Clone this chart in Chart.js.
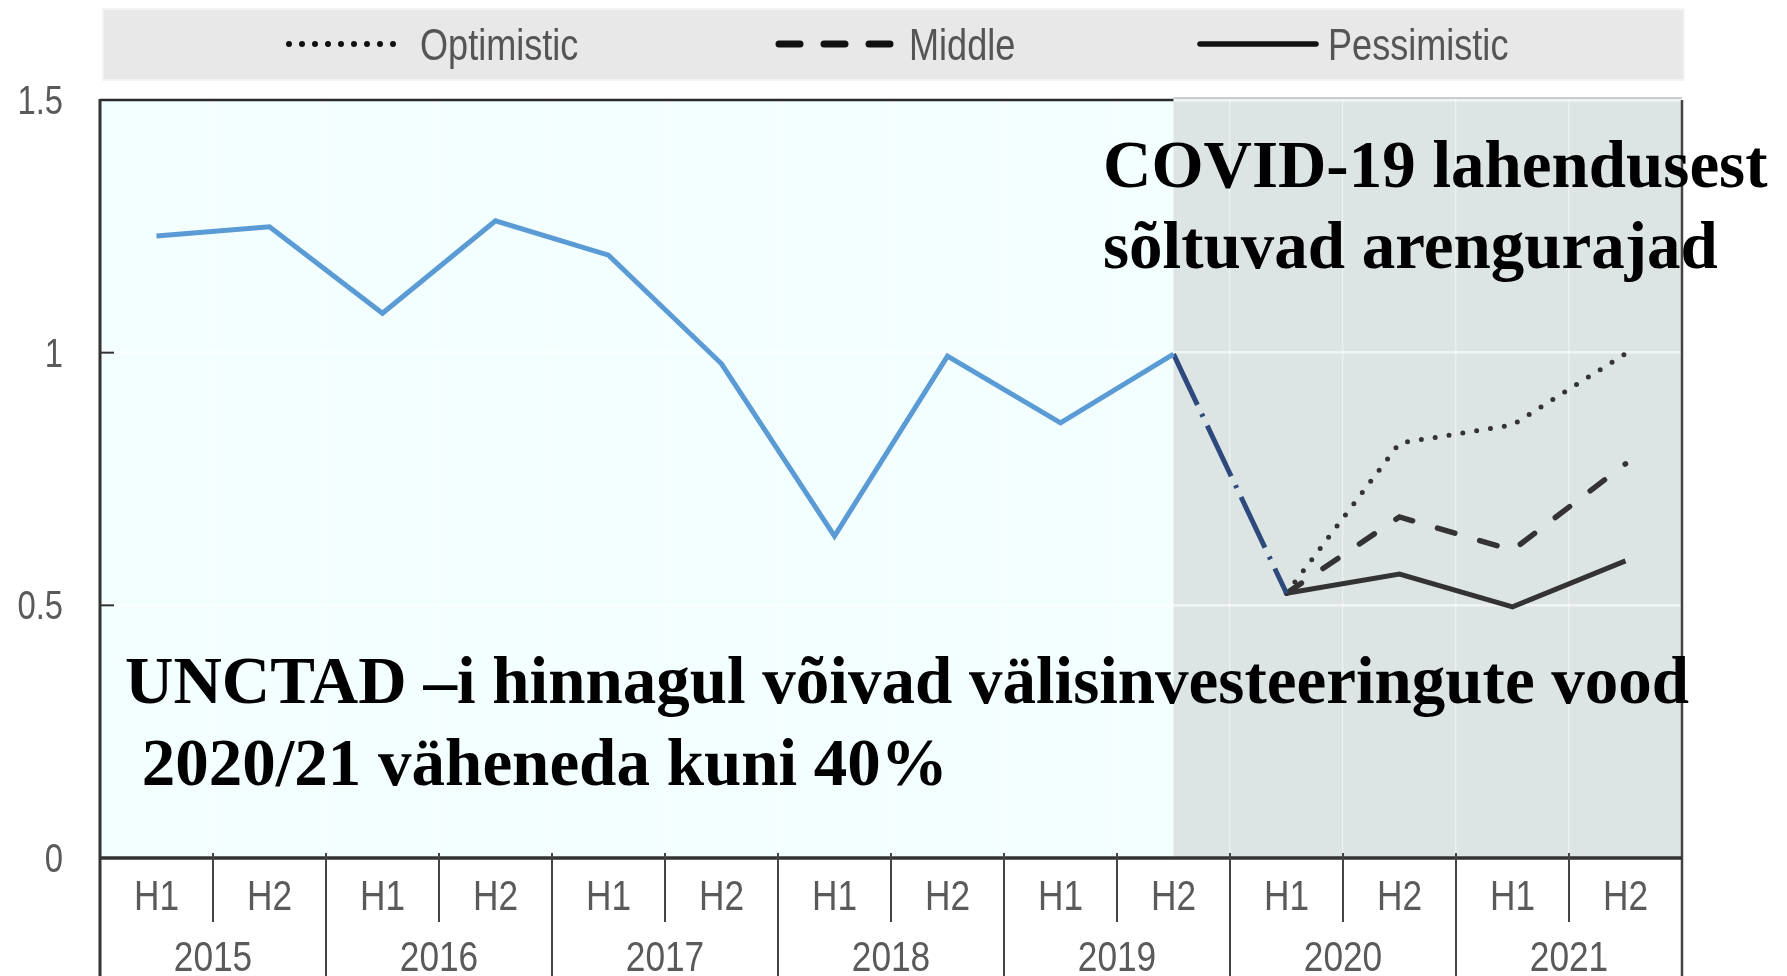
<!DOCTYPE html>
<html>
<head>
	<meta charset="UTF-8">
	<title>Välisinvesteeringute vood</title>
	<script src="https://cdn.jsdelivr.net/npm/chart.js@4.4.1/dist/chart.umd.min.js"></script>
	<style>
		body { margin: 0; background: #fff; }
		#wrap { width: 1787px; height: 976px; position: relative; }
	</style>
</head>
<body>
	<div id="wrap"><canvas id="chart"></canvas></div>

	<script>
		// andmed
		var years = ['2015', '2016', '2017', '2018', '2019', '2020', '2021'];
		var halves = ['H1', 'H2'];
		var yTicks = [0, 0.5, 1, 1.5];

		var actual      = [1.231, 1.249, 1.078, 1.261, 1.193, 0.978, 0.637, 0.993, 0.861, 0.997, null, null, null, null];
		var bridge      = [null, null, null, null, null, null, null, null, null, 0.997, 0.524, null, null, null];
		var optimistic  = [null, null, null, null, null, null, null, null, null, null, 0.524, 0.821, 0.857, 0.998];
		var middle      = [null, null, null, null, null, null, null, null, null, null, 0.524, 0.675, 0.609, 0.780];
		var pessimistic = [null, null, null, null, null, null, null, null, null, null, 0.524, 0.562, 0.497, 0.588];

		var legendNames = ['Optimistic', 'Middle', 'Pessimistic'];
		var noteTop = ['COVID-19 lahendusest', 'sõltuvad arengurajad'];
		var noteBottom = ['UNCTAD –i hinnagul võivad välisinvesteeringute vood', ' 2020/21 väheneda kuni 40%'];

		var categories = [];
		years.forEach(function(y) {
			halves.forEach(function(h) { categories.push(y + ' ' + h); });
		});

		var SANS = '"Liberation Sans", Arial, sans-serif';
		var SERIF = '"Liberation Serif", "Times New Roman", serif';
		var SQUEEZE = 0.82;

		// kitsendatud tekst nagu originaalpildil
		function narrowText(ctx, text, x, y, align, size, color) {
			ctx.save();
			ctx.font = size + 'px ' + SANS;
			ctx.fillStyle = color;
			ctx.textBaseline = 'alphabetic';
			var w = ctx.measureText(text).width * SQUEEZE;
			var left = x;
			if (align === 'center') left = x - w / 2;
			if (align === 'right') left = x - w;
			ctx.translate(left, y);
			ctx.scale(SQUEEZE, 1);
			ctx.textAlign = 'left';
			ctx.fillText(text, 0, 0);
			ctx.restore();
		}

		function line(ctx, x1, y1, x2, y2, color, width, dash, cap) {
			ctx.save();
			ctx.strokeStyle = color;
			ctx.lineWidth = width;
			ctx.setLineDash(dash || []);
			ctx.lineCap = cap || 'butt';
			ctx.beginPath();
			ctx.moveTo(x1, y1);
			ctx.lineTo(x2, y2);
			ctx.stroke();
			ctx.restore();
		}

		var backgroundPlugin = {
			id: 'backgrounds',
			beforeDraw: function(chart) {
				var ctx = chart.ctx, a = chart.chartArea, x = chart.scales.x;
				var split = x.getPixelForValue(9);
				ctx.save();
				ctx.fillStyle = '#ffffff';
				ctx.fillRect(0, 0, chart.width, chart.height);
				ctx.fillStyle = '#f2feff';
				ctx.fillRect(a.left, a.top, split - a.left, a.bottom - a.top);
				ctx.fillStyle = '#dde4e4';
				ctx.fillRect(split, a.top - 3, a.right - split, a.bottom - a.top + 3);
				ctx.restore();
			}
		};

		var decorPlugin = {
			id: 'decor',
			afterDraw: function(chart) {
				var ctx = chart.ctx, a = chart.chartArea;
				var x = chart.scales.x, y = chart.scales.y;
				var step = (a.right - a.left) / categories.length;
				var split = x.getPixelForValue(9);

				// raam
				line(ctx, a.left, a.top, split, a.top, '#2b2b2b', 2.5);
				line(ctx, split, a.top - 2, a.right, a.top - 2, '#c8cccc', 2);
				line(ctx, a.left, a.top - 1, a.left, chart.height, '#333', 3);
				line(ctx, a.right, a.top, a.right, chart.height, '#444', 2.5);
				line(ctx, a.left, a.bottom, a.right, a.bottom, '#333', 3.5);

				// y telg
				yTicks.forEach(function(v) {
					var py = y.getPixelForValue(v);
					if (v > 0 && v < 1.5) line(ctx, a.left, py, a.left + 14, py, '#333', 2);
					narrowText(ctx, String(v), 63, py + 14, 'right', 40, '#5a5a5a');
				});

				// x telg: poolaastad ja aastad
				categories.forEach(function(c, i) {
					var cx = x.getPixelForValue(i);
					narrowText(ctx, halves[i % 2], cx, 910, 'center', 43, '#5a5a5a');
					if (i % 2 === 0) {
						line(ctx, cx + step / 2, a.bottom - 5, cx + step / 2, 922, '#444', 2);
						narrowText(ctx, years[i / 2], cx + step / 2, 971, 'center', 43, '#5a5a5a');
					} else if (i < categories.length - 1) {
						line(ctx, cx + step / 2, a.bottom - 5, cx + step / 2, chart.height, '#444', 2);
					}
				});

				// legend
				ctx.save();
				ctx.fillStyle = '#e8e8e8';
				ctx.fillRect(103, 9, 1581, 71);
				ctx.strokeStyle = '#f4f4f4';
				ctx.lineWidth = 2;
				ctx.strokeRect(103, 9, 1581, 71);
				ctx.restore();
				line(ctx, 289, 44, 405, 44, '#111', 6, [0, 13], 'round');
				narrowText(ctx, legendNames[0], 420, 60, 'left', 44, '#555');
				line(ctx, 779, 44, 897, 44, '#111', 7, [21, 24], 'round');
				narrowText(ctx, legendNames[1], 909, 60, 'left', 44, '#555');
				line(ctx, 1200, 44, 1316, 44, '#111', 5.5, [], 'round');
				narrowText(ctx, legendNames[2], 1328, 60, 'left', 44, '#555');

				// tekstid
				ctx.save();
				ctx.fillStyle = '#000';
				ctx.font = 'bold 67px ' + SERIF;
				ctx.textAlign = 'left';
				ctx.textBaseline = 'alphabetic';
				ctx.fillText(noteTop[0], 1103, 187);
				ctx.fillText(noteTop[1], 1103, 268);
				ctx.fillText(noteBottom[0], 125, 703);
				ctx.fillText(noteBottom[1], 125, 785);
				ctx.restore();
			}
		};

		var ctx = document.getElementById('chart').getContext('2d');
		var myChart = new Chart(ctx, {
			type: 'line',
			data: {
				labels: categories,
				datasets: [{
					label: 'Tegelik',
					data: actual,
					borderColor: '#5b9bd5',
					borderWidth: 5,
					borderJoinStyle: 'miter'
				}, {
					label: 'Üleminek',
					data: bridge,
					borderColor: '#2e4a7d',
					borderWidth: 5,
					borderDash: [56, 10, 3, 10]
				}, {
					label: legendNames[0],
					data: optimistic,
					borderColor: '#333',
					borderWidth: 5,
					borderDash: [0, 14],
					borderCapStyle: 'round'
				}, {
					label: legendNames[1],
					data: middle,
					borderColor: '#333',
					borderWidth: 5.5,
					borderDash: [18, 26],
					borderCapStyle: 'round'
				}, {
					label: legendNames[2],
					data: pessimistic,
					borderColor: '#333',
					borderWidth: 5
				}]
			},
			options: {
				responsive: true,
				maintainAspectRatio: false,
				animation: false,
				layout: { padding: { left: 100, top: 100, right: 105, bottom: 118 } },
				elements: { point: { radius: 0 }, line: { tension: 0 } },
				plugins: {
					legend: { display: false },
					tooltip: { enabled: false }
				},
				scales: {
					x: {
						offset: true,
						ticks: { display: false },
						border: { display: false },
						grid: { offset: true, color: 'rgba(255,255,255,0.45)', lineWidth: 1.5, drawTicks: false }
					},
					y: {
						min: 0,
						max: 1.5,
						ticks: { display: false, stepSize: 0.5 },
						border: { display: false },
						grid: { color: 'rgba(255,255,255,0.6)', lineWidth: 2.5, drawTicks: false }
					}
				}
			},
			plugins: [backgroundPlugin, decorPlugin]
		});
	</script>
</body>
</html>
